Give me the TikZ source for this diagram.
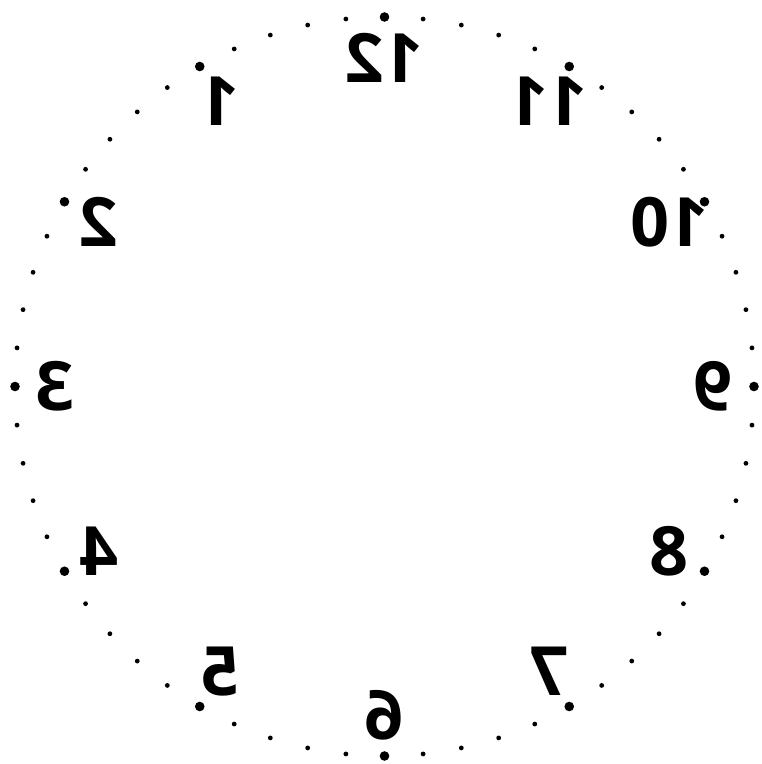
\documentclass[tikz,border=0pt]{standalone}
\usepackage{fontspec}
\setmainfont{Open Sans}
\usepackage{graphicx}
\usetikzlibrary{calc}
\begin{document}
\begin{tikzpicture}[
  x=1pt, y=1pt,
  minordot/.style={fill=black},
  hourdot/.style={fill=black},
  numeral/.style={font=\fontsize{68}{68}\selectfont\bfseries, inner sep=0pt},
]
\useasboundingbox (0,0) rectangle (762,764);
\coordinate (ctr) at (384.5,377.5);
% ---------- minute dots ----------
\foreach \m in {0,...,59}
  \fill[minordot] ($(ctr)+(90+6*\m:369.5)$) circle (2.4);
% ---------- hour dots and mirrored numerals ----------
\foreach \h in {1,...,12}{
  \fill[hourdot] ($(ctr)+(90+30*\h:369.5)$) circle (4.8);
  \node[numeral] (h\h) at ($(ctr)+(90+30*\h:329)$) {\reflectbox{\h}};
}
\end{tikzpicture}
\end{document}
